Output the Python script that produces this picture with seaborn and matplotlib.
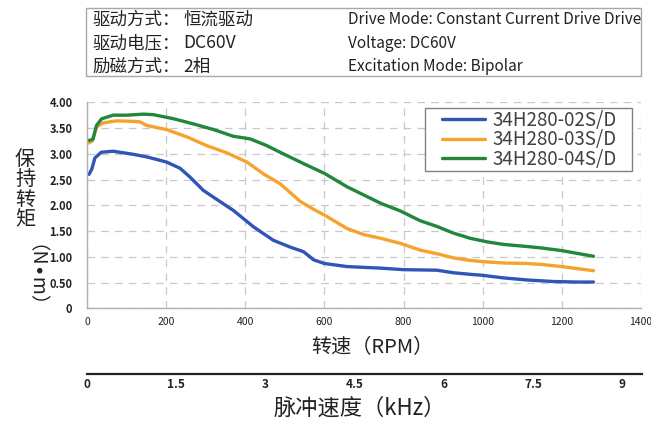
import pandas as pd
import seaborn as sns
import matplotlib.pyplot as plt
from matplotlib.patches import Rectangle

# torque curves (rpm, N.m)
rpm_02 = [5, 12, 20, 36, 66, 117, 151, 201, 235, 260, 294, 319, 370, 421, 471, 513, 547, 573, 600, 657, 742, 800, 884, 926, 968, 1000, 1053, 1112, 1179, 1240, 1280]
torque_02 = [2.60, 2.70, 2.92, 3.03, 3.05, 2.99, 2.94, 2.84, 2.72, 2.55, 2.29, 2.16, 1.90, 1.58, 1.32, 1.19, 1.10, 0.94, 0.87, 0.81, 0.78, 0.75, 0.74, 0.69, 0.66, 0.64, 0.59, 0.55, 0.52, 0.51, 0.51]

rpm_03 = [5, 13, 24, 41, 75, 117, 134, 151, 201, 252, 302, 353, 404, 446, 488, 538, 573, 600, 657, 700, 742, 792, 842, 884, 926, 968, 1011, 1053, 1112, 1150, 1200, 1280]
torque_03 = [3.21, 3.25, 3.52, 3.60, 3.64, 3.63, 3.62, 3.55, 3.47, 3.33, 3.16, 3.02, 2.84, 2.61, 2.42, 2.08, 1.92, 1.81, 1.55, 1.43, 1.36, 1.26, 1.13, 1.06, 0.98, 0.93, 0.90, 0.88, 0.87, 0.85, 0.81, 0.73]

rpm_04 = [5, 15, 24, 37, 66, 100, 143, 168, 219, 269, 320, 370, 412, 454, 488, 547, 600, 657, 742, 792, 842, 884, 926, 968, 1011, 1053, 1112, 1150, 1200, 1280]
torque_04 = [3.26, 3.28, 3.55, 3.68, 3.75, 3.75, 3.77, 3.76, 3.68, 3.58, 3.47, 3.34, 3.29, 3.16, 3.03, 2.81, 2.62, 2.36, 2.04, 1.89, 1.70, 1.59, 1.46, 1.36, 1.29, 1.24, 1.20, 1.17, 1.12, 1.01]

models = ['34H280-02S/D', '34H280-03S/D', '34H280-04S/D']
colors = ['#2f55b5', '#f7a22e', '#21873b']

yticks = [0, 0.5, 1.0, 1.5, 2.0, 2.5, 3.0, 3.5, 4.0]
ytick_labels = ['0', '0.50', '1.00', '1.50', '2.00', '2.50', '3.00', '3.50', '4.00']
xticks = [0, 200, 400, 600, 800, 1000, 1200, 1400]
khz_ticks = [0, 1.5, 3, 4.5, 6, 7.5, 9]
khz_labels = ['0', '1.5', '3', '4.5', '6', '7.5', '9']

header_keys = ['驱动方式：', '驱动电压：', '励磁方式：']
header_vals = ['恒流驱动', 'DC60V', '2相']
header_en = ['Drive Mode: Constant Current Drive Drive', 'Voltage: DC60V', 'Excitation Mode: Bipolar']

df = pd.concat([
    pd.DataFrame({'rpm': rpm_02, 'torque': torque_02, 'model': models[0]}),
    pd.DataFrame({'rpm': rpm_03, 'torque': torque_03, 'model': models[1]}),
    pd.DataFrame({'rpm': rpm_04, 'torque': torque_04, 'model': models[2]}),
])

sns.set_style('white')
plt.rcParams['font.family'] = ['Noto Sans CJK SC', 'DejaVu Sans']

W, H = 651, 423
fig = plt.figure(figsize=(W / 100, H / 100), dpi=100)

def fx(px):
    return px / W

def fy(py):
    return 1 - py / H

ax = fig.add_axes([fx(87), fy(308.3), fx(641) - fx(87), fy(102.3) - fy(308.3)])
sns.lineplot(data=df, x='rpm', y='torque', hue='model', palette=colors,
             linewidth=2.4, ax=ax, sort=False)

ax.set_xlim(0, 1400)
ax.set_ylim(0, 4)
ax.set_xticks(xticks)
ax.set_yticks(yticks)
ax.set_yticklabels(ytick_labels)
ax.set_xlabel('')
ax.set_ylabel('')
ax.grid(True, color='#c8c8c8', linestyle=(0, (6, 5)), linewidth=0.9)
ax.set_axisbelow(True)
for side in ['top', 'right']:
    ax.spines[side].set_visible(False)
for side in ['left', 'bottom']:
    ax.spines[side].set_color('#b0b0b0')
    ax.spines[side].set_linewidth(1.0)
ax.tick_params(axis='y', direction='out', length=2.5, color='#c0c0c0', pad=8,
               labelsize=8, labelcolor='#222222')
ax.tick_params(axis='x', direction='in', length=3, color='#b0b0b0', pad=6,
               labelsize=7.5, labelcolor='#222222')
for lab in ax.get_yticklabels():
    lab.set_fontweight('bold')

# legend without its own frame, boxed by hand to match the tight rows
handles, labels = ax.get_legend_handles_labels()
ax.get_legend().remove()
leg = fig.legend(handles, labels, loc='upper left',
                 bbox_to_anchor=(fx(442), fy(110)), fontsize=13.5,
                 frameon=False, borderpad=0, labelspacing=-0.09,
                 handlelength=2.3, handletextpad=0.4, borderaxespad=0)
for t in leg.get_texts():
    t.set_color('#404040')
fig.patches.append(Rectangle((fx(425), fy(171)), fx(632) - fx(425), fy(108) - fy(171),
                             transform=fig.transFigure, fill=True, facecolor='white',
                             edgecolor='#808080', linewidth=1.0, zorder=0))

# pulse-rate axis under the rpm axis
ax2 = fig.add_axes([fx(87), fy(374), fx(642) - fx(87), 0.001])
ax2.set_xlim(0, 1400 * 9 / 1350)
ax2.set_ylim(0, 1)
ax2.set_yticks([])
ax2.set_xticks(khz_ticks)
ax2.set_xticklabels(khz_labels)
ax2.patch.set_visible(False)
for side in ['top', 'right', 'left']:
    ax2.spines[side].set_visible(False)
ax2.spines['bottom'].set_color('#222222')
ax2.spines['bottom'].set_linewidth(1.6)
ax2.tick_params(axis='x', direction='in', length=6, width=1.6, color='#222222',
                pad=3, labelsize=8.5, labelcolor='#222222')
for lab in ax2.get_xticklabels():
    lab.set_fontweight('bold')

fig.text(fx(372), fy(348), '转速（RPM）', fontsize=14.5, ha='center', va='center',
         color='#222222')
fig.text(fx(360), fy(408), '脉冲速度（kHz）', fontsize=16, ha='center', va='center',
         color='#222222')

# vertical y label: upright characters, then the unit turned to read downward
fig.text(fx(25), fy(190), '保\n持\n转\n矩', fontsize=14.5, ha='center', va='center',
         linespacing=0.95, color='#222222')
fig.text(fx(25), fy(286), '（N\u2219m）', fontsize=14, ha='center', va='center',
         rotation=270, color='#222222')

# header box
fig.patches.append(Rectangle((fx(86), fy(76)), fx(641) - fx(86), fy(8.3) - fy(76),
                             transform=fig.transFigure, fill=False,
                             edgecolor='#a8a8a8', linewidth=1.0))
for i, (key, val, en) in enumerate(zip(header_keys, header_vals, header_en)):
    y = fy(20 + i * 23.3)
    fig.text(fx(92), y, key, fontsize=12.6, ha='left', va='center', color='#222222')
    fig.text(fx(183), y, val, fontsize=12.6, ha='left', va='center', color='#222222')
    fig.text(fx(348), y, en, fontsize=11.1, ha='left', va='center', color='#222222')

plt.savefig('out.png', dpi=100)
